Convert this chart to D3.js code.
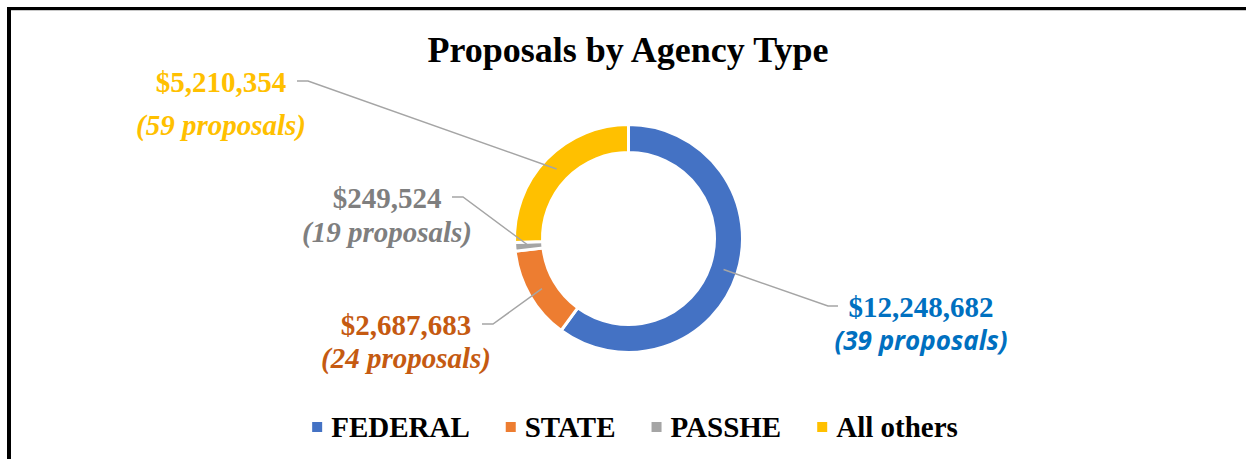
<!DOCTYPE html>
<html>
<head>
<meta charset="utf-8">
<script src="https://cdn.jsdelivr.net/npm/d3@7"></script>
<style>
  html, body { margin: 0; padding: 0; background: #fff; }
</style>
</head>
<body>
<div id="chart"></div>
<script>
// data
const categories = ["FEDERAL", "STATE", "PASSHE", "All others"];
const amounts = [12248682, 2687683, 249524, 5210354];
const proposalCounts = [39, 24, 19, 59];

const width = 1246;
const height = 459;

const sliceColors = ["#4472C4", "#ED7D31", "#A5A5A5", "#FFC000"];
const labelColors = ["#0070C0", "#C55A11", "#7F7F7F", "#FFC000"];

// label block centre, elbow of the leader line, side the short stub goes to
const labelLayout = [
  { cx: 921, y: 317, gap: 33, elbowX: 828, elbowY: 306, stub: 10 },
  { cx: 406, y: 335, gap: 33, elbowX: 493, elbowY: 324, stub: -11 },
  { cx: 387, y: 208, gap: 34, elbowX: 463, elbowY: 197, stub: -11 },
  { cx: 221, y: 92, gap: 43, elbowX: 308, elbowY: 81, stub: -11 }
];

const svg = d3.select("#chart")
  .append("svg")
  .attr("width", width)
  .attr("height", height);

// frame
svg.append("rect").attr("x", 7).attr("y", 7).attr("width", width - 7).attr("height", 3).attr("fill", "#000");
svg.append("rect").attr("x", 7).attr("y", 7).attr("width", 4).attr("height", height - 7).attr("fill", "#000");
svg.append("line")
  .attr("x1", 11).attr("x2", width)
  .attr("y1", 10.5).attr("y2", 10.5)
  .attr("stroke", "#c8c8c8").attr("stroke-width", 1);

// title
svg.append("text")
  .attr("x", 628)
  .attr("y", 62)
  .attr("text-anchor", "middle")
  .attr("font-family", "'Liberation Serif', 'Times New Roman', serif")
  .attr("font-weight", "bold")
  .attr("font-size", "36px")
  .attr("fill", "#000")
  .text("Proposals by Agency Type");

// donut
const cx = 628.5, cy = 238.5;
const pie = d3.pie().sort(null).value(d => d)(amounts);
const arc = d3.arc().innerRadius(86).outerRadius(114);

const g = svg.append("g").attr("transform", `translate(${cx},${cy})`);
g.selectAll("path")
  .data(pie)
  .join("path")
  .attr("d", arc)
  .attr("fill", (d, i) => sliceColors[i])
  .attr("stroke", "#fff")
  .attr("stroke-width", 3);

// leader lines
const mid = d3.arc().innerRadius(100).outerRadius(100);
pie.forEach((d, i) => {
  const [px, py] = mid.centroid(d);
  const L = labelLayout[i];
  svg.append("polyline")
    .attr("points", [
      [cx + px, cy + py],
      [L.elbowX, L.elbowY],
      [L.elbowX + L.stub, L.elbowY]
    ].map(p => p.join(",")).join(" "))
    .attr("fill", "none")
    .attr("stroke", "#A5A5A5")
    .attr("stroke-width", 1.5);
});

// data labels
const fmt = d3.format("$,");
categories.forEach((c, i) => {
  const L = labelLayout[i];
  svg.append("text")
    .attr("x", L.cx)
    .attr("y", L.y)
    .attr("text-anchor", "middle")
    .attr("font-family", "'Liberation Serif', 'Times New Roman', serif")
    .attr("font-weight", "bold")
    .attr("font-size", "29px")
    .attr("fill", labelColors[i])
    .text(fmt(amounts[i]));

  const sans = i === 0;
  svg.append("text")
    .attr("x", L.cx)
    .attr("y", L.y + L.gap)
    .attr("text-anchor", "middle")
    .attr("font-family", sans ? "'Open Sans', sans-serif" : "'Liberation Serif', 'Times New Roman', serif")
    .attr("font-weight", "bold")
    .attr("font-style", "italic")
    .attr("font-size", sans ? "26px" : "29px")
    .attr("fill", labelColors[i])
    .text(`(${proposalCounts[i]} proposals)`);
});

// legend
const legend = svg.append("g");
let lx = 0;
categories.forEach((c, i) => {
  const item = legend.append("g").attr("transform", `translate(${lx},0)`);
  item.append("rect")
    .attr("x", 0).attr("y", -15)
    .attr("width", 10).attr("height", 10)
    .attr("fill", sliceColors[i]);
  const t = item.append("text")
    .attr("x", 19)
    .attr("y", 0)
    .attr("font-family", "'Liberation Serif', 'Times New Roman', serif")
    .attr("font-weight", "bold")
    .attr("font-size", "29px")
    .attr("fill", "#000")
    .text(c);
  lx += 19 + t.node().getComputedTextLength() + 36;
});
const legendW = lx - 36;
legend.attr("transform", `translate(${635 - legendW / 2},437)`);
</script>
</body>
</html>
